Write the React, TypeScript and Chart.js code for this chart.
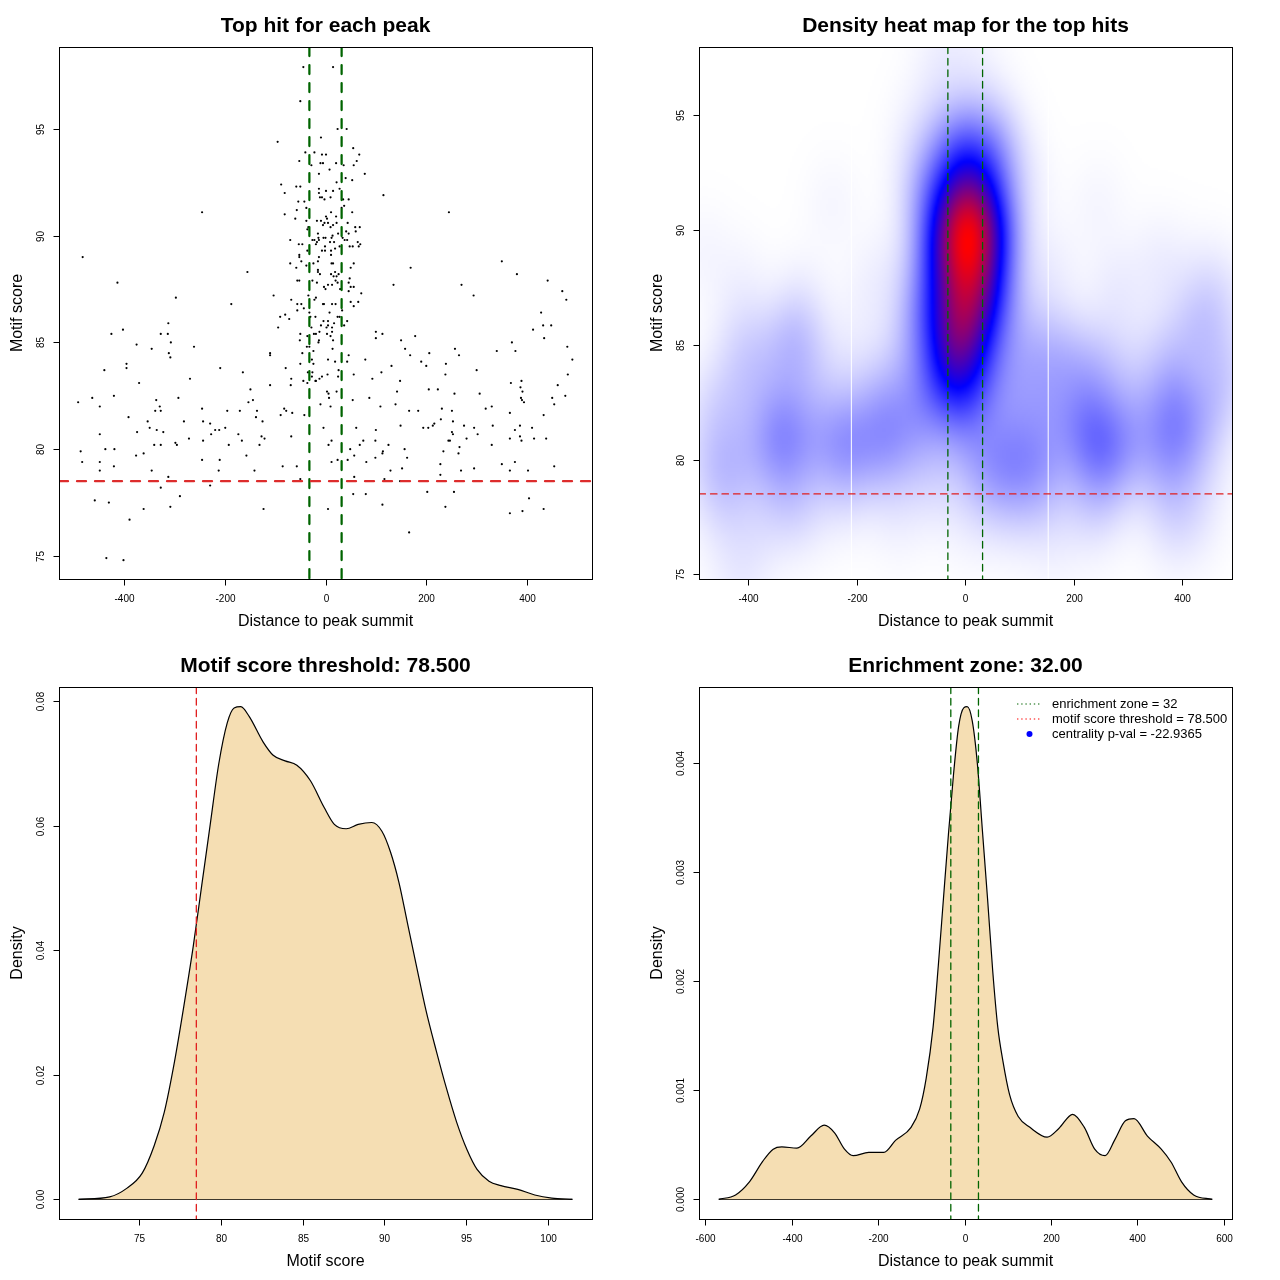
import React, { useEffect, useRef } from "react";
import { Chart, registerables } from "chart.js";
Chart.register(...registerables);

const FONT = "'Liberation Sans', Arial, Helvetica, sans-serif";

// ---------- data: top hit per peak  [distance to summit, motif score] ----------
const hitsOuterTop: [number, number][] = [
  [-44, 97.9], [-50, 96.3], [-245, 91.1], [-482, 89.0], [-155, 88.3], [-413, 87.8], [-297, 87.1], [-187, 86.8],
  [15, 97.9], [115, 91.9], [245, 91.1], [169, 88.5], [135, 87.7], [270, 87.7], [294, 87.2], [350, 88.8],
  [380, 88.2], [441, 87.9], [470, 87.4], [478, 87.0], [428, 86.4],
];
const hitsLeft: [number, number][] = [
  [-312, 85.9], [-425, 85.4], [-402, 85.6], [-327, 85.4], [-313, 85.4], [-307, 85.0], [-375, 84.9], [-345, 84.7],
  [-261, 84.8], [-311, 84.5], [-308, 84.3], [-395, 84.0], [-395, 83.8], [-439, 83.7], [-209, 83.8], [-164, 83.6],
  [-269, 83.3], [-370, 83.1], [-149, 82.8], [-420, 82.5], [-463, 82.4], [-491, 82.2], [-448, 82.0], [-336, 82.3],
  [-329, 82.0], [-338, 81.8], [-327, 81.8], [-292, 82.4], [-153, 82.2], [-144, 82.3], [-245, 81.9], [-195, 81.8],
  [-170, 81.8], [-136, 81.8], [-391, 81.5], [-353, 81.3], [-281, 81.3], [-243, 81.3], [-229, 81.2], [-138, 81.5],
  [-125, 81.3], [-89, 81.6], [-42, 81.6], [-349, 81.0], [-335, 80.9], [-322, 80.8], [-374, 80.8], [-448, 80.7],
  [-219, 80.9], [-211, 80.9], [-199, 81.0], [-227, 80.7], [-173, 80.7], [-127, 80.6], [-121, 80.5], [-68, 80.6],
  [-271, 80.5], [-243, 80.4], [-166, 80.4], [-298, 80.3], [-295, 80.2], [-340, 80.2], [-327, 80.2], [-192, 80.2],
  [-131, 80.2], [-437, 80.0], [-419, 80.0], [-486, 79.9], [-361, 79.8], [-376, 79.7], [-157, 79.7], [-245, 79.5],
  [-210, 79.5], [-483, 79.4], [-448, 79.4], [-420, 79.2], [-85, 79.2], [-57, 79.2], [-448, 79.0], [-345, 79.0],
  [-212, 79.0], [-141, 79.0], [-312, 78.7], [-50, 78.6], [-229, 78.3], [-327, 78.2], [-289, 77.8], [-458, 77.6],
  [-430, 77.5], [-361, 77.2], [-308, 77.3], [-123, 77.2], [-389, 76.7], [-435, 74.9], [-401, 74.8],
];
const hitsRight: [number, number][] = [
  [432, 85.8], [448, 85.8], [412, 85.6], [434, 85.2], [113, 85.4], [150, 85.1], [178, 85.3], [158, 84.7],
  [168, 84.4], [206, 84.5], [257, 84.7], [265, 84.4], [340, 84.6], [370, 85.0], [377, 84.6], [480, 84.8],
  [490, 84.2], [131, 83.9], [190, 84.1], [200, 83.9], [239, 84.0], [238, 83.5], [300, 83.7], [111, 83.6],
  [148, 83.2], [142, 82.7], [205, 82.8], [223, 82.8], [256, 82.6], [306, 82.6], [368, 83.1], [389, 83.2],
  [387, 82.9], [391, 82.7], [388, 82.4], [390, 82.3], [394, 82.2], [461, 83.0], [481, 83.5], [450, 82.4],
  [476, 82.5], [454, 82.1], [109, 82.0], [139, 82.1], [166, 81.8], [184, 81.8], [231, 81.9], [251, 81.8],
  [318, 81.9], [330, 82.0], [366, 81.7], [433, 81.6], [229, 81.4], [253, 81.3], [213, 81.1], [216, 81.2],
  [194, 81.0], [204, 81.0], [149, 81.1], [100, 80.9], [61, 81.0], [-4, 81.0], [275, 81.1], [295, 81.0],
  [302, 80.7], [332, 81.1], [376, 80.9], [386, 81.1], [410, 81.0], [251, 80.8], [253, 80.7], [244, 80.4],
  [247, 80.4], [280, 80.5], [366, 80.5], [386, 80.6], [389, 80.4], [414, 80.5], [438, 80.5], [75, 80.4],
  [99, 80.4], [12, 80.4], [6, 80.2], [68, 80.2], [125, 80.2], [49, 80.0], [57, 79.7], [44, 79.5],
  [81, 79.4], [99, 79.6], [114, 79.9], [113, 79.8], [157, 80.0], [162, 79.6], [266, 80.1], [264, 79.8],
  [234, 79.9], [330, 80.2], [12, 79.4], [24, 79.5], [228, 79.3], [350, 79.3], [376, 79.4], [152, 79.1],
  [129, 79.0], [269, 79.0], [295, 79.1], [366, 79.0], [402, 79.0], [454, 79.2], [57, 78.7], [228, 78.8],
  [117, 78.6], [148, 78.5], [55, 77.9], [80, 77.9], [202, 78.0], [255, 78.0], [404, 77.7], [5, 77.2],
  [113, 77.4], [238, 77.3], [366, 77.0], [391, 77.1], [433, 77.2], [166, 76.1],
];
const hitsCoreUpper: [number, number][] = [
  [-9, 94.6], [-95, 94.4], [24, 95.0], [42, 95.0], [-40, 93.9], [-22, 93.9], [-7, 93.8], [1, 93.8],
  [55, 94.1], [67, 93.8], [-52, 93.5], [-28, 93.3], [-10, 93.4], [-5, 93.4], [21, 93.4], [36, 93.3],
  [62, 93.5], [56, 93.3], [8, 93.1], [-13, 92.9], [78, 92.9], [40, 92.7], [53, 92.6], [-88, 92.4],
  [-58, 92.3], [-50, 92.3], [-13, 92.2], [-13, 92.0], [1, 92.1], [15, 92.1], [22, 92.5], [28, 92.2],
  [-81, 92.0], [-11, 91.8], [-7, 91.8], [10, 91.8], [-2, 91.7], [35, 91.7], [46, 91.7], [-54, 91.6],
  [-42, 91.6], [-38, 91.3], [-57, 91.2], [32, 91.3], [37, 91.4], [53, 91.1], [11, 91.1], [-81, 91.0],
  [-60, 90.8], [21, 90.9], [-38, 90.7], [-17, 90.7], [-9, 90.7], [1, 90.9], [3, 90.8], [-2, 90.6],
  [5, 90.6], [15, 90.5], [-5, 90.5], [22, 90.6], [44, 90.6], [59, 90.4], [68, 90.4], [-34, 90.4],
  [-36, 90.3], [10, 90.4], [-15, 90.1], [41, 90.2], [46, 90.1], [60, 90.2], [14, 90.0], [12, 89.9],
  [25, 90.1], [34, 89.9], [-4, 89.9], [0, 89.9], [-14, 89.9], [-70, 89.8], [-26, 89.8], [-22, 89.8],
  [-17, 89.7], [-13, 89.8], [9, 89.7], [17, 89.7], [38, 89.8], [43, 89.8], [64, 89.7], [69, 89.6],
  [-53, 89.6], [-46, 89.6], [-1, 89.5], [48, 89.5], [54, 89.5], [66, 89.5], [-19, 89.6], [19, 89.4],
  [28, 89.5], [-36, 89.3], [-7, 89.3], [-1, 89.3], [11, 89.3], [-52, 89.1], [-52, 89.0], [-13, 89.0],
  [11, 89.1], [-48, 88.8], [-15, 88.8], [-70, 88.7], [-58, 88.5], [-38, 88.6], [-24, 88.7], [12, 88.7],
  [15, 88.7], [56, 88.7], [50, 88.5], [-15, 88.4],
];
const hitsCoreLower: [number, number][] = [
  [-15, 88.3], [-11, 88.2], [11, 88.2], [19, 88.3], [16, 88.1], [22, 88.1], [26, 88.2], [48, 88.0],
  [-56, 87.9], [-52, 87.9], [-26, 87.9], [-17, 87.8], [20, 87.9], [24, 87.8], [46, 87.8], [-3, 87.6],
  [0, 87.5], [5, 87.7], [13, 87.7], [29, 87.5], [50, 87.6], [56, 87.6], [46, 87.4], [71, 87.3],
  [-103, 87.2], [-34, 87.2], [-19, 87.1], [-22, 87.0], [-68, 87.0], [-56, 86.8], [-48, 86.8], [-5, 86.8],
  [-3, 86.8], [13, 86.8], [20, 86.8], [50, 86.9], [65, 86.9], [56, 86.7], [-43, 86.6], [-56, 86.5],
  [-32, 86.4], [8, 86.4], [33, 86.5], [-80, 86.3], [-90, 86.2], [-72, 86.1], [-30, 86.2], [-20, 86.2],
  [24, 86.2], [28, 86.2], [-4, 86.0], [5, 86.0], [17, 85.9], [43, 86.0], [-9, 85.8], [2, 85.7],
  [5, 85.8], [13, 85.7], [-28, 85.7], [37, 85.8], [-94, 85.7], [-12, 85.5], [13, 85.5], [-50, 85.4],
  [-23, 85.4], [-19, 85.4], [3, 85.4], [10, 85.3], [-36, 85.3], [-13, 85.1], [-14, 85.0], [15, 85.1],
  [-51, 85.1], [100, 85.5], [100, 85.2], [-37, 84.8], [-32, 84.8], [-24, 84.6], [14, 84.7], [-46, 84.5],
  [46, 84.4], [-110, 84.5], [-110, 84.4], [-27, 84.2], [-24, 84.0], [5, 84.2], [19, 84.1], [43, 84.1],
  [79, 84.2], [-50, 84.0], [-79, 83.8], [-35, 83.6], [-26, 83.6], [4, 83.5], [26, 83.7], [56, 83.5],
  [-27, 83.4], [-7, 83.4], [25, 83.4], [-12, 83.3], [-19, 83.2], [-20, 83.2], [-36, 83.1], [-44, 83.2],
  [-68, 83.3], [93, 83.3], [-110, 83.0], [-69, 83.0], [3, 82.7], [22, 82.7], [6, 82.6], [7, 82.4],
  [54, 82.3], [87, 82.4], [10, 82.0], [-10, 82.1], [-82, 81.9], [-78, 81.8], [-66, 81.7],
];

// ---------- density curves ----------
const scoreDensX = [71.3, 73.2, 74.26, 75.19, 75.92, 76.54, 77.17, 77.79, 78.31, 78.83, 79.35, 79.87, 80.39, 80.81, 81.22, 81.74, 82.57, 83.2, 83.93, 84.65, 85.48, 86.32, 86.94, 87.67, 88.4, 89.23, 89.85, 90.37, 90.89, 91.41, 91.93, 92.55, 93.18, 93.8, 94.42, 95.05, 95.67, 96.4, 97.13, 98.16, 99.2, 100.24, 101.5];
const scoreDensY = [0, 0.0004, 0.0018, 0.0042, 0.0086, 0.014, 0.0222, 0.0319, 0.0406, 0.0504, 0.0602, 0.0699, 0.0765, 0.0789, 0.0791, 0.0775, 0.0735, 0.0713, 0.0704, 0.0697, 0.0672, 0.0629, 0.0602, 0.0595, 0.0602, 0.0605, 0.0591, 0.0558, 0.0509, 0.0444, 0.0379, 0.0303, 0.0238, 0.0178, 0.0124, 0.008, 0.0048, 0.0029, 0.0022, 0.0016, 0.0007, 0.0002, 0];
const distDensX = [-569, -530, -498, -467, -443, -423, -388, -356, -325, -301, -278, -258, -222, -187, -160, -124, -104, -89, -73, -61, -49, -37.5, -25.7, -13.9, -2.1, 5.8, 17.6, 29.4, 41.2, 53, 64.9, 76.7, 88.5, 104, 124, 151, 191, 218, 250, 277, 301, 325, 348, 372, 392, 423, 455, 478, 502, 530, 573];
const distDensY = [0, 0.00004, 0.00016, 0.00035, 0.00046, 0.00048, 0.00047, 0.00058, 0.00068, 0.00061, 0.00046, 0.0004, 0.00043, 0.00043, 0.00054, 0.00066, 0.00083, 0.00111, 0.00158, 0.00214, 0.00276, 0.00335, 0.0039, 0.00434, 0.00451, 0.00452, 0.00439, 0.004, 0.00338, 0.00276, 0.0021, 0.00158, 0.00127, 0.00096, 0.00076, 0.00066, 0.00057, 0.00065, 0.00078, 0.00066, 0.00046, 0.0004, 0.00055, 0.00072, 0.00074, 0.00058, 0.00046, 0.00034, 0.00016, 0.00004, 0];

const enrichmentZone = 32;
const scoreThreshold = 78.5;
const centralityPval = -22.9365;
const heatGaps = [-210, 153];

// ---------- ticks ----------
const hitXTicks = [-400, -200, 0, 200, 400];
const hitYTicks = [75, 80, 85, 90, 95];
const scoreXTicks = [75, 80, 85, 90, 95, 100];
const scoreYTicks = [0, 0.02, 0.04, 0.06, 0.08];
const scoreYTickLabels = ["0.00", "0.02", "0.04", "0.06", "0.08"];
const distXTicks = [-600, -400, -200, 0, 200, 400, 600];
const distYTicks = [0, 0.001, 0.002, 0.003, 0.004];
const distYTickLabels = ["0.000", "0.001", "0.002", "0.003", "0.004"];

const allHits = [...hitsOuterTop, ...hitsLeft, ...hitsRight, ...hitsCoreUpper, ...hitsCoreLower];

const GREEN = "#006400";
const RED = "#DD2C2C";
const PAD = { left: 59, right: 48, top: 47, bottom: 61 };

type RefLine = { axis: "x" | "y"; value: number; color: string; width: number; dash: number[]; cap?: CanvasLineCap };
type PanelCfg = {
  title: string;
  xLabel: string;
  yLabel: string;
  xTicks: number[];
  xTickLabels?: string[];
  yTicks: number[];
  yTickLabels?: string[];
  lines: RefLine[];
  heat?: { bwX: number; bwY: number; gamma: number };
  legend?: boolean;
};

function drawHeat(chart: any, heat: { bwX: number; bwY: number; gamma: number }) {
  const { ctx, chartArea: a, scales } = chart;
  const xs = scales.x, ys = scales.y;
  const pts = chart.data.datasets[0].data as { x: number; y: number }[];
  const cell = 2;
  const w = a.right - a.left, h = a.bottom - a.top;
  const nx = Math.ceil(w / cell), ny = Math.ceil(h / cell);
  const gx = new Float64Array(nx), gy = new Float64Array(ny);
  for (let i = 0; i < nx; i++) gx[i] = xs.getValueForPixel(a.left + (i + 0.5) * cell);
  for (let j = 0; j < ny; j++) gy[j] = ys.getValueForPixel(a.top + (j + 0.5) * cell);
  const dens = new Float64Array(nx * ny);
  const wx = new Float64Array(nx), wy = new Float64Array(ny);
  for (const p of pts) {
    for (let i = 0; i < nx; i++) { const d = (gx[i] - p.x) / heat.bwX; wx[i] = Math.exp(-0.5 * d * d); }
    for (let j = 0; j < ny; j++) { const d = (gy[j] - p.y) / heat.bwY; wy[j] = Math.exp(-0.5 * d * d); }
    for (let j = 0; j < ny; j++) {
      const v = wy[j];
      if (v < 1e-5) continue;
      const row = j * nx;
      for (let i = 0; i < nx; i++) dens[row + i] += v * wx[i];
    }
  }
  let max = 0;
  for (let k = 0; k < dens.length; k++) if (dens[k] > max) max = dens[k];
  const off = document.createElement("canvas");
  off.width = nx; off.height = ny;
  const octx = off.getContext("2d")!;
  const img = octx.createImageData(nx, ny);
  for (let k = 0; k < dens.length; k++) {
    const t = Math.pow(dens[k] / max, heat.gamma);
    let r, g, b;
    if (t < 0.5) { const s = t / 0.5; r = 255 * (1 - s); g = 255 * (1 - s); b = 255; }
    else { const s = (t - 0.5) / 0.5; r = 255 * s; g = 0; b = 255 * (1 - s); }
    img.data[k * 4] = r; img.data[k * 4 + 1] = g; img.data[k * 4 + 2] = b; img.data[k * 4 + 3] = 255;
  }
  octx.putImageData(img, 0, 0);
  ctx.save();
  ctx.beginPath(); ctx.rect(a.left, a.top, w, h); ctx.clip();
  ctx.imageSmoothingEnabled = true;
  ctx.drawImage(off, a.left, a.top, nx * cell, ny * cell);
  ctx.restore();
}

function makeRPlugin(cfg: PanelCfg) {
  return {
    id: "rstyle",
    beforeDatasetsDraw(chart: any) {
      if (cfg.heat) drawHeat(chart, cfg.heat);
    },
    afterDatasetsDraw(chart: any) {
      const { ctx, chartArea: a, scales } = chart;
      ctx.save();
      ctx.beginPath(); ctx.rect(a.left, a.top, a.right - a.left, a.bottom - a.top); ctx.clip();
      for (const l of cfg.lines) {
        ctx.beginPath();
        ctx.strokeStyle = l.color; ctx.lineWidth = l.width; ctx.setLineDash(l.dash); ctx.lineCap = l.cap || "butt";
        if (l.axis === "x") {
          const p = scales.x.getPixelForValue(l.value);
          ctx.moveTo(p, a.top); ctx.lineTo(p, a.bottom);
        } else {
          const p = scales.y.getPixelForValue(l.value);
          ctx.moveTo(a.left, p); ctx.lineTo(a.right, p);
        }
        ctx.stroke();
      }
      ctx.restore();
    },
    afterDraw(chart: any) {
      const { ctx, chartArea: a, scales } = chart;
      const xs = scales.x, ys = scales.y;
      ctx.save();
      ctx.setLineDash([]);
      ctx.strokeStyle = "#000"; ctx.fillStyle = "#000"; ctx.lineWidth = 1;
      const L = Math.round(a.left) + 0.5, T = Math.round(a.top) + 0.5;
      const R = Math.round(a.right) + 0.5, B = Math.round(a.bottom) + 0.5;
      ctx.strokeRect(L, T, R - L, B - T);
      ctx.font = `10px ${FONT}`; ctx.textAlign = "center"; ctx.textBaseline = "middle";
      cfg.xTicks.forEach((v, i) => {
        const p = Math.round(xs.getPixelForValue(v)) + 0.5;
        ctx.beginPath(); ctx.moveTo(p, B); ctx.lineTo(p, B + 6); ctx.stroke();
        ctx.fillText(cfg.xTickLabels ? cfg.xTickLabels[i] : String(v), p, B + 20);
      });
      cfg.yTicks.forEach((v, i) => {
        const p = Math.round(ys.getPixelForValue(v)) + 0.5;
        ctx.beginPath(); ctx.moveTo(L - 6, p); ctx.lineTo(L, p); ctx.stroke();
        ctx.save(); ctx.translate(L - 18, p); ctx.rotate(-Math.PI / 2);
        ctx.fillText(cfg.yTickLabels ? cfg.yTickLabels[i] : String(v), 0, 0);
        ctx.restore();
      });
      ctx.font = `16px ${FONT}`;
      ctx.fillText(cfg.xLabel, (a.left + a.right) / 2, B + 42);
      ctx.save(); ctx.translate(L - 42, (a.top + a.bottom) / 2); ctx.rotate(-Math.PI / 2);
      ctx.fillText(cfg.yLabel, 0, 0); ctx.restore();
      ctx.font = `bold 21px ${FONT}`;
      ctx.fillText(cfg.title, (a.left + a.right) / 2, 26);
      if (cfg.legend) {
        const x0 = a.left + 318, x1 = a.left + 343, tx = a.left + 353;
        const rows = [a.top + 17, a.top + 32, a.top + 47];
        ctx.lineWidth = 1.2; ctx.setLineDash([1.4, 2.8]);
        ctx.strokeStyle = GREEN; ctx.beginPath(); ctx.moveTo(x0, rows[0]); ctx.lineTo(x1, rows[0]); ctx.stroke();
        ctx.strokeStyle = "#FF0000"; ctx.beginPath(); ctx.moveTo(x0, rows[1]); ctx.lineTo(x1, rows[1]); ctx.stroke();
        ctx.setLineDash([]);
        ctx.fillStyle = "#0000FF"; ctx.beginPath(); ctx.arc((x0 + x1) / 2, rows[2], 3, 0, Math.PI * 2); ctx.fill();
        ctx.fillStyle = "#000"; ctx.font = `13px ${FONT}`; ctx.textAlign = "left";
        ctx.fillText(`enrichment zone = ${enrichmentZone}`, tx, rows[0]);
        ctx.fillText(`motif score threshold = ${scoreThreshold.toFixed(3)}`, tx, rows[1]);
        ctx.fillText(`centrality p-val = ${centralityPval}`, tx, rows[2]);
      }
      ctx.restore();
    },
  };
}

function baseOptions(xmin: number, xmax: number, ymin: number, ymax: number): any {
  return {
    animation: false,
    responsive: false,
    events: [],
    layout: { padding: PAD },
    scales: {
      x: { type: "linear", min: xmin, max: xmax, display: false },
      y: { type: "linear", min: ymin, max: ymax, display: false },
    },
    plugins: { legend: { display: false }, tooltip: { enabled: false } },
  };
}

const thickLines: RefLine[] = [
  { axis: "x", value: -enrichmentZone, color: GREEN, width: 2.25, dash: [9, 9], cap: "round" },
  { axis: "x", value: enrichmentZone, color: GREEN, width: 2.25, dash: [9, 9], cap: "round" },
  { axis: "y", value: scoreThreshold, color: RED, width: 2.25, dash: [9, 9], cap: "round" },
];
const thinDash = [6.5, 5];
const RED2 = "#E01E1E";

function scatterConfig(): any {
  return {
    type: "scatter",
    data: {
      datasets: [{
        data: allHits.map(([x, y]) => ({ x, y })),
        pointRadius: 1.1,
        pointBackgroundColor: "#000",
        pointBorderWidth: 0,
        pointHoverRadius: 0,
      }],
    },
    options: baseOptions(-529, 529, 73.92, 98.84),
    plugins: [makeRPlugin({
      title: "Top hit for each peak", xLabel: "Distance to peak summit", yLabel: "Motif score",
      xTicks: hitXTicks, yTicks: hitYTicks, lines: thickLines,
    })],
  };
}

function heatConfig(): any {
  return {
    type: "scatter",
    data: { datasets: [{ data: allHits.map(([x, y]) => ({ x, y })), pointRadius: 0, pointHoverRadius: 0 }] },
    options: baseOptions(-491, 492, 74.8, 97.95),
    plugins: [makeRPlugin({
      title: "Density heat map for the top hits", xLabel: "Distance to peak summit", yLabel: "Motif score",
      xTicks: hitXTicks, yTicks: hitYTicks,
      heat: { bwX: 36, bwY: 1.5, gamma: 1 },
      lines: [
        ...heatGaps.map((v) => ({ axis: "x" as const, value: v, color: "#FFFFFF", width: 1, dash: [] })),
        { axis: "x", value: -enrichmentZone, color: GREEN, width: 1.3, dash: thinDash, cap: "round" },
        { axis: "x", value: enrichmentZone, color: GREEN, width: 1.3, dash: thinDash, cap: "round" },
        { axis: "y", value: scoreThreshold, color: RED2, width: 1.3, dash: thinDash, cap: "round" },
      ],
    })],
  };
}

function densityConfig(xs: number[], ys: number[], range: number[], cfg: PanelCfg): any {
  return {
    type: "scatter",
    data: {
      datasets: [
        {
          data: xs.map((x, i) => ({ x, y: ys[i] })),
          showLine: true, fill: "origin", backgroundColor: "#F5DEB3",
          borderColor: "#000", borderWidth: 1.2, pointRadius: 0, pointHoverRadius: 0,
          cubicInterpolationMode: "monotone",
        },
        {
          data: [{ x: xs[0], y: 0 }, { x: xs[xs.length - 1], y: 0 }],
          showLine: true, fill: false, borderColor: "#000", borderWidth: 1.2, pointRadius: 0, pointHoverRadius: 0,
        },
      ],
    },
    options: baseOptions(range[0], range[1], range[2], range[3]),
    plugins: [makeRPlugin(cfg)],
  };
}

function Panel({ left, top, build }: { left: number; top: number; build: () => any }) {
  const ref = useRef<HTMLCanvasElement>(null);
  useEffect(() => {
    const chart = new Chart(ref.current!, build());
    return () => chart.destroy();
  }, []);
  return (
    <canvas ref={ref} width={640} height={640}
      style={{ position: "absolute", left, top, width: 640, height: 640 }} />
  );
}

export default function App() {
  return (
    <div style={{ position: "absolute", left: 0, top: 0, width: 1280, height: 1280, background: "#fff" }}>
      <Panel left={0} top={0} build={scatterConfig} />
      <Panel left={640} top={0} build={heatConfig} />
      <Panel left={0} top={640} build={() => densityConfig(scoreDensX, scoreDensY, [70.1, 102.7, -0.00316, 0.08226], {
        title: "Motif score threshold: 78.500", xLabel: "Motif score", yLabel: "Density",
        xTicks: scoreXTicks, yTicks: scoreYTicks, yTickLabels: scoreYTickLabels,
        lines: [{ axis: "x", value: scoreThreshold, color: RED2, width: 1.3, dash: thinDash, cap: "round" }],
      })} />
      <Panel left={640} top={640} build={() => densityConfig(distDensX, distDensY, [-614.7, 618.7, -0.000181, 0.004701], {
        title: "Enrichment zone: 32.00", xLabel: "Distance to peak summit", yLabel: "Density",
        xTicks: distXTicks, yTicks: distYTicks, yTickLabels: distYTickLabels,
        lines: [
          { axis: "x", value: -enrichmentZone, color: GREEN, width: 1.3, dash: thinDash, cap: "round" },
          { axis: "x", value: enrichmentZone, color: GREEN, width: 1.3, dash: thinDash, cap: "round" },
        ],
        legend: true,
      })} />
    </div>
  );
}
